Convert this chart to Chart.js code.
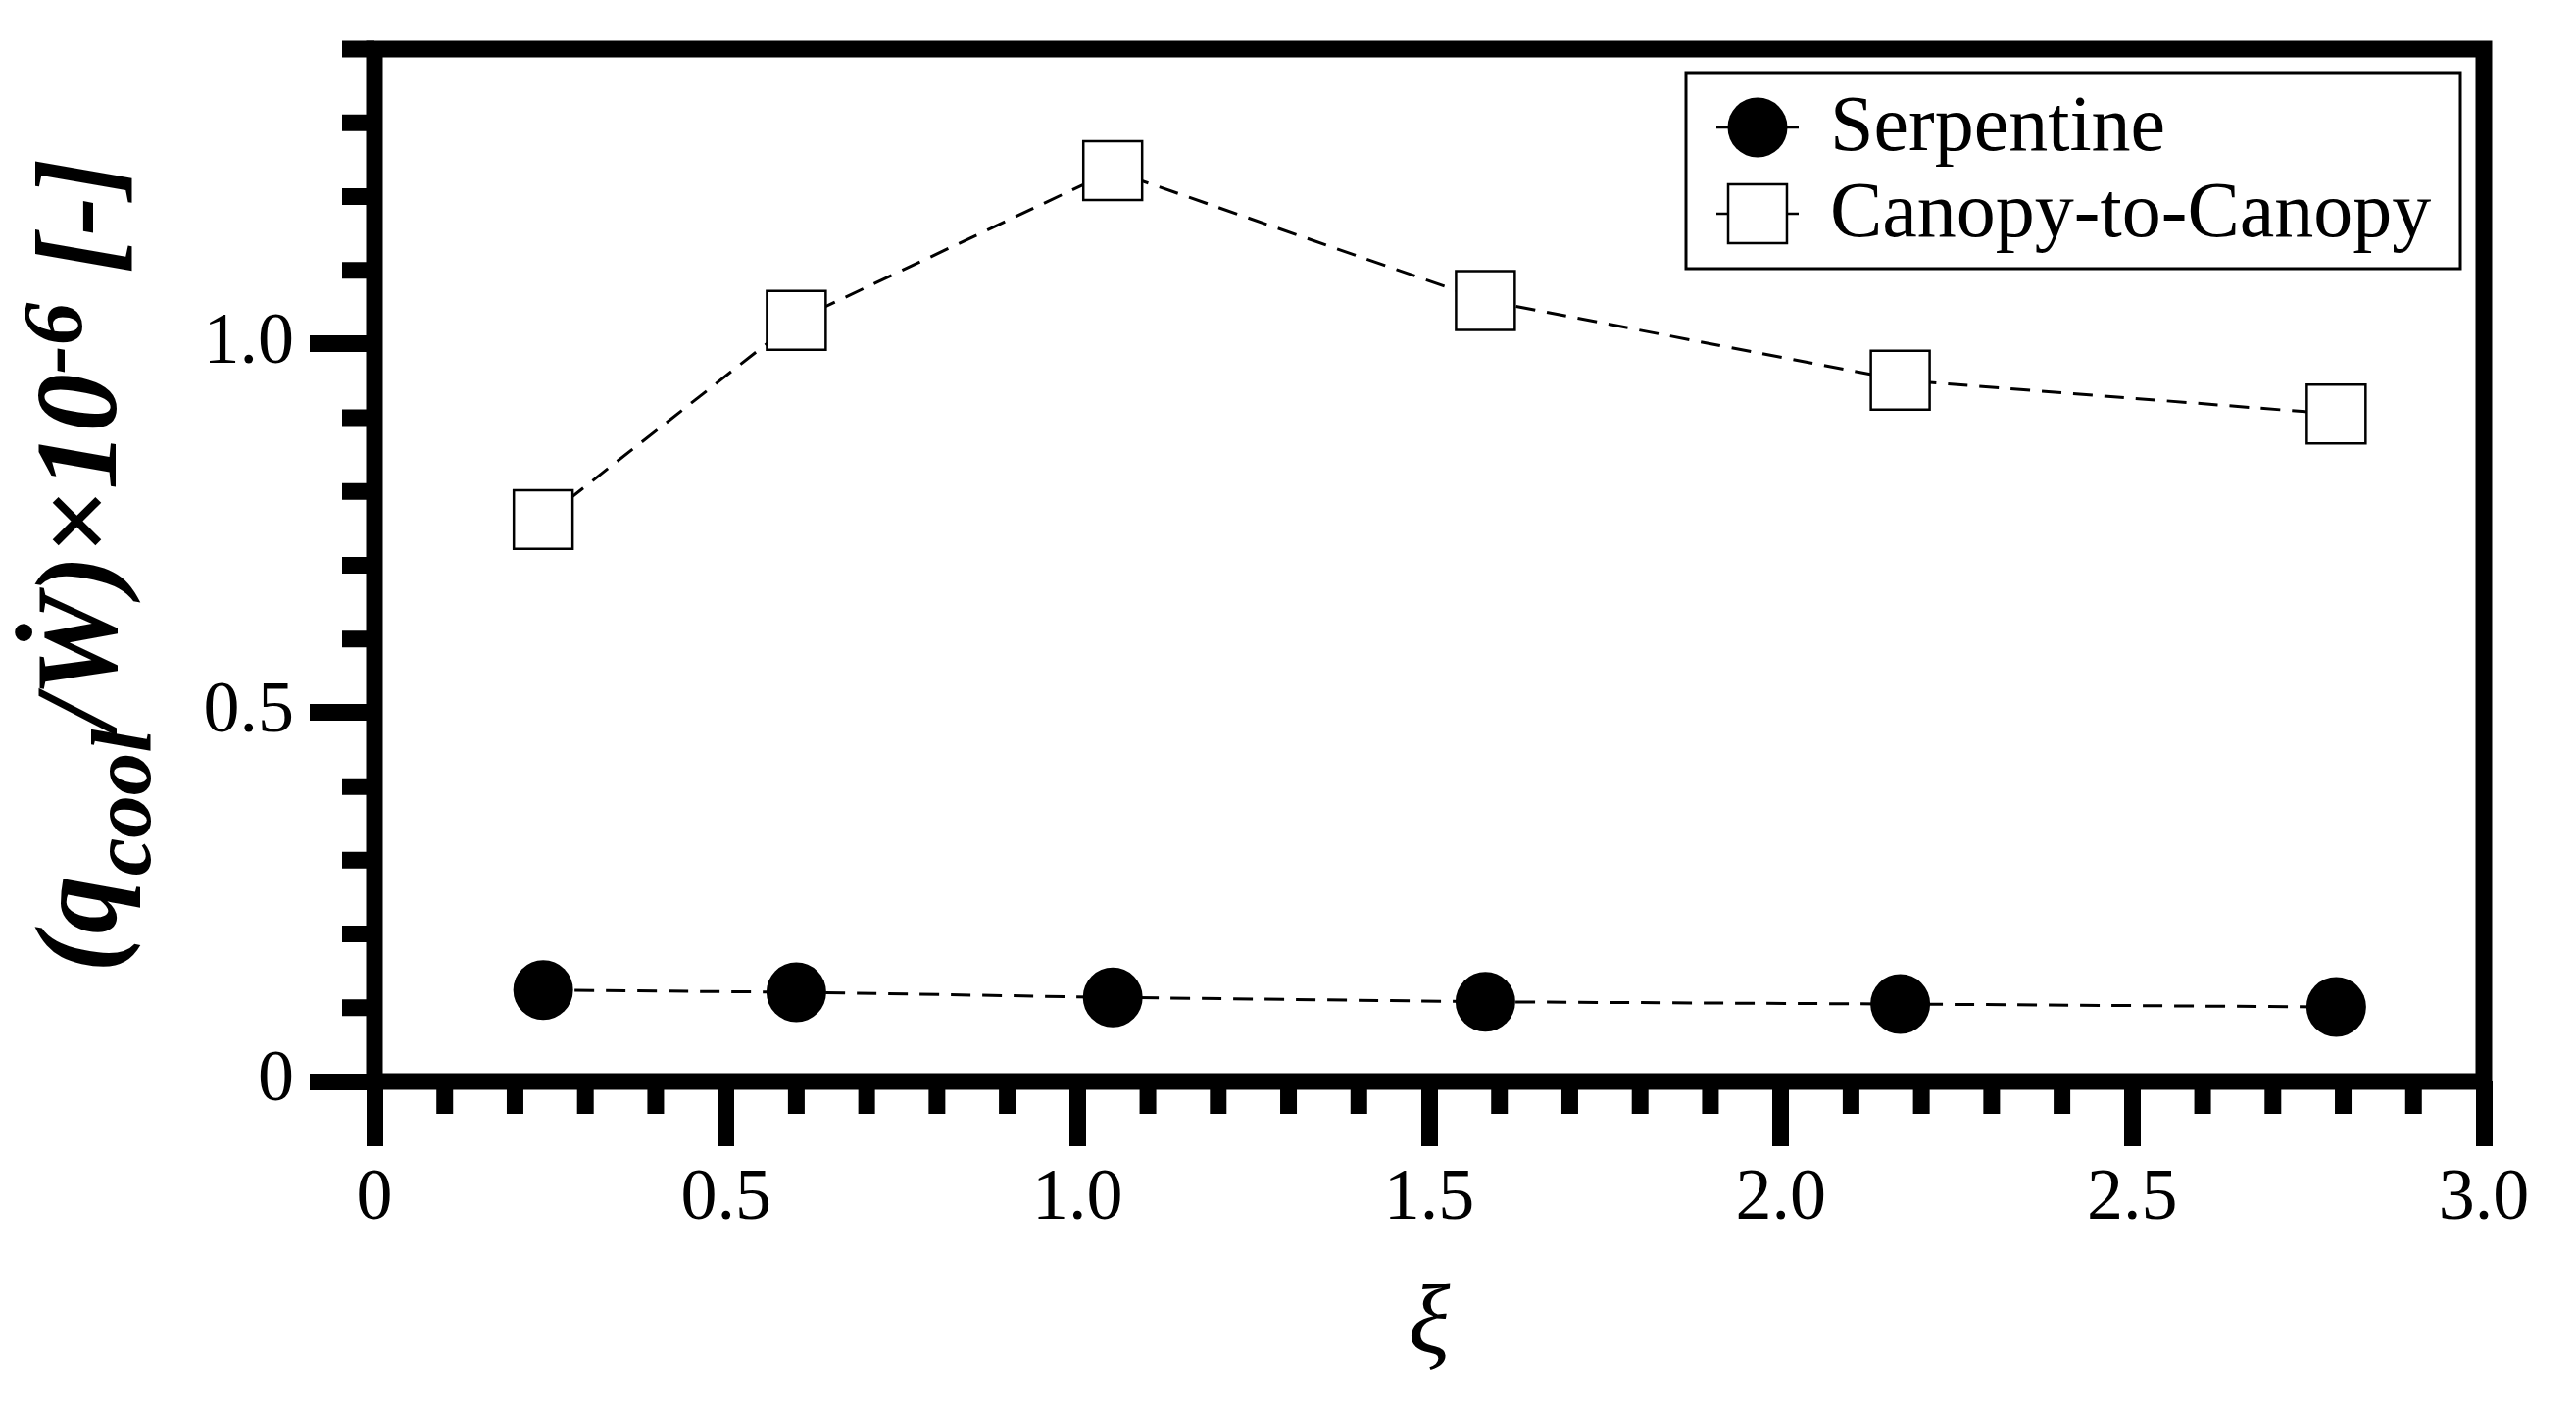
<!DOCTYPE html>
<html>
<head>
<meta charset="utf-8">
<script src="https://cdn.jsdelivr.net/npm/chart.js@4/dist/chart.umd.min.js"></script>
<style>
  html, body { margin: 0; padding: 0; background: #fff; }
  #wrap { width: 2628px; height: 1435px; position: relative; }
</style>
</head>
<body>
<div id="wrap"><canvas id="chart"></canvas></div>
<script>
// data
const xiValues = [0.24, 0.60, 1.05, 1.58, 2.17, 2.79];
const serpentine = [0.124, 0.121, 0.114, 0.108, 0.105, 0.101];
const canopy = [0.762, 1.032, 1.235, 1.059, 0.951, 0.905];
const seriesNames = ['Serpentine', 'Canopy-to-Canopy'];
const xTickLabels = ['0', '0.5', '1.0', '1.5', '2.0', '2.5', '3.0'];
const yTickLabels = ['0', '0.5', '1.0'];

const serif = "'Liberation Serif', 'DejaVu Serif', serif";
const isMajor = v => Math.abs(v * 2 - Math.round(v * 2)) < 1e-6;

// minor ticks + box frame round the plot
const framePlugin = {
    id: 'frame',
    afterDraw(chart) {
        const { ctx, chartArea: a, scales } = chart;
        ctx.save();
        ctx.strokeStyle = '#000';
        ctx.lineWidth = 17;
        ctx.beginPath();
        scales.x.ticks.forEach(t => {
            if (isMajor(t.value)) return;
            const px = scales.x.getPixelForValue(t.value);
            ctx.moveTo(px, a.bottom);
            ctx.lineTo(px, a.bottom + 33);
        });
        scales.y.ticks.forEach(t => {
            if (isMajor(t.value)) return;
            const py = scales.y.getPixelForValue(t.value);
            ctx.moveTo(a.left, py);
            ctx.lineTo(a.left - 33, py);
        });
        ctx.stroke();
        ctx.lineJoin = 'miter';
        ctx.strokeRect(a.left, a.top, a.right - a.left, a.bottom - a.top);
        ctx.restore();
    }
};

// legend box in the upper right corner
const legendPlugin = {
    id: 'boxLegend',
    afterDraw(chart) {
        const { ctx, chartArea: a } = chart;
        const w = 790, h = 200;
        const bx = a.right - 24 - w, by = a.top + 24;
        ctx.save();
        ctx.strokeStyle = '#000';
        ctx.lineWidth = 3;
        ctx.strokeRect(bx, by, w, h);
        chart.data.datasets.forEach((ds, i) => {
            const cy = by + 56 + i * 88;
            ctx.lineWidth = 2.5;
            ctx.setLineDash([]);
            ctx.beginPath();
            ctx.moveTo(bx + 31, cy);
            ctx.lineTo(bx + 115, cy);
            ctx.stroke();
            ctx.fillStyle = ds.pointBackgroundColor;
            ctx.strokeStyle = '#000';
            ctx.lineWidth = ds.pointBorderWidth;
            Chart.helpers.drawPoint(ctx, {
                pointStyle: ds.pointStyle,
                radius: ds.pointRadius,
                rotation: 0,
                borderWidth: ds.pointBorderWidth
            }, bx + 73, cy);
            ctx.fillStyle = '#000';
            ctx.font = '80px ' + serif;
            ctx.textBaseline = 'middle';
            ctx.fillText(ds.label, bx + 147, cy + 2);
        });
        ctx.restore();
    }
};

// y axis title with subscript and superscript
const yTitleParts = [
    { text: '(q', shift: 0 },
    { text: 'cool', shift: 1 },
    { text: '/\u1E86)\u00D710', shift: 0 },
    { text: '-6', shift: -1 },
    { text: ' [-]', shift: 0 }
];
const yTitlePlugin = {
    id: 'yTitle',
    afterDraw(chart) {
        const { ctx, chartArea: a } = chart;
        const font = s => `italic bold ${s}px ${serif}`;
        let total = 0;
        yTitleParts.forEach(p => {
            ctx.font = font(p.shift ? 87 : 118);
            p.w = ctx.measureText(p.text).width;
            total += p.w;
        });
        ctx.save();
        ctx.translate(118, (a.top + a.bottom) / 2);
        ctx.rotate(-Math.PI / 2);
        ctx.fillStyle = '#000';
        ctx.textBaseline = 'alphabetic';
        let x = -total / 2;
        yTitleParts.forEach(p => {
            ctx.font = font(p.shift ? 87 : 118);
            ctx.fillText(p.text, x, p.shift * 35);
            x += p.w;
        });
        ctx.restore();
    }
};

const toPoints = ys => xiValues.map((x, i) => ({ x: x, y: ys[i] }));

new Chart(document.getElementById('chart'), {
    type: 'line',
    data: {
        datasets: [{
            label: seriesNames[0],
            data: toPoints(serpentine),
            borderColor: '#000',
            borderWidth: 3,
            borderDash: [20, 12],
            pointStyle: 'circle',
            pointRadius: 30.5,
            pointBackgroundColor: '#000',
            pointBorderColor: '#000',
            pointBorderWidth: 0
        }, {
            label: seriesNames[1],
            data: toPoints(canopy),
            borderColor: '#000',
            borderWidth: 3,
            borderDash: [20, 12],
            pointStyle: 'rect',
            pointRadius: 42.4,
            pointBackgroundColor: '#fff',
            pointBorderColor: '#000',
            pointBorderWidth: 2.5
        }]
    },
    options: {
        responsive: true,
        maintainAspectRatio: false,
        animation: false,
        layout: { padding: { left: 0, top: 50, right: 94, bottom: 0 } },
        plugins: { legend: { display: false }, tooltip: { enabled: false } },
        scales: {
            x: {
                type: 'linear',
                min: 0,
                max: 3,
                afterFit: s => { s.height = 332; },
                border: { display: false },
                grid: {
                    drawOnChartArea: false,
                    drawTicks: true,
                    tickLength: 66,
                    tickWidth: 17,
                    tickColor: c => isMajor(c.tick.value) ? '#000' : 'rgba(0,0,0,0)'
                },
                ticks: {
                    stepSize: 0.1,
                    autoSkip: false,
                    maxRotation: 0,
                    padding: 10,
                    color: '#000',
                    font: { family: serif, size: 74 },
                    callback: v => isMajor(v) ? xTickLabels[Math.round(v * 2)] : ''
                },
                title: {
                    display: true,
                    text: '\u03BE',
                    color: '#000',
                    font: { family: serif, size: 100, style: 'italic' },
                    padding: { top: 0, bottom: 22 }
                }
            },
            y: {
                min: 0,
                max: 1.4,
                afterFit: s => { s.width = 382; },
                border: { display: false },
                grid: {
                    drawOnChartArea: false,
                    drawTicks: true,
                    tickLength: 66,
                    tickWidth: 17,
                    tickColor: c => isMajor(c.tick.value) ? '#000' : 'rgba(0,0,0,0)'
                },
                ticks: {
                    stepSize: 0.1,
                    autoSkip: false,
                    padding: 16,
                    color: '#000',
                    font: { family: serif, size: 74, lineHeight: 0.3 },
                    callback: v => (isMajor(v) && v < 1.2) ? yTickLabels[Math.round(v * 2)] : ''
                }
            }
        }
    },
    plugins: [framePlugin, legendPlugin, yTitlePlugin]
});
</script>
</body>
</html>
